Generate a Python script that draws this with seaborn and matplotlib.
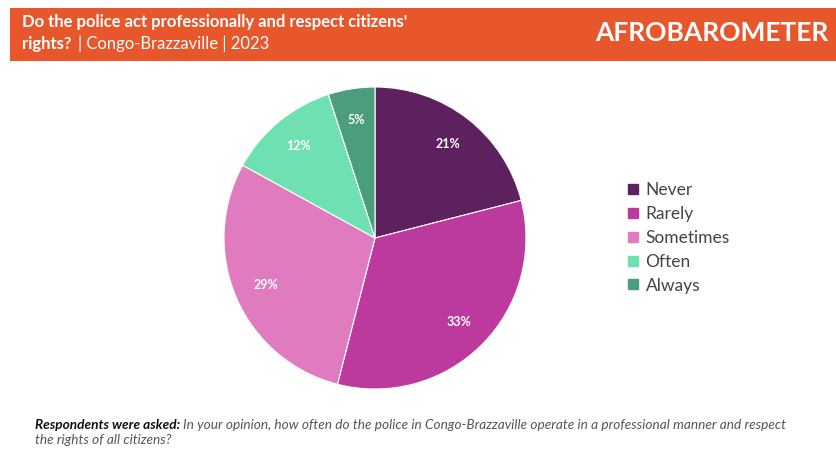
import matplotlib
matplotlib.use("Agg")
import matplotlib.pyplot as plt
import seaborn as sns
from matplotlib.patches import Rectangle
from matplotlib.lines import Line2D

categories = ["Never", "Rarely", "Sometimes", "Often", "Always"]
values = [21, 33, 29, 12, 5]
colors = ["#5E2160", "#BC3A9E", "#E07BC0", "#6FE0B2", "#4A9E7E"]

sns.set_theme(style="white")
plt.rcParams['font.family'] = ['Lato', 'DejaVu Sans']

W, H = 836, 463
fig = plt.figure(figsize=(W / 100, H / 100), dpi=100)
fig.patch.set_facecolor("white")

def fx(px):
    return px / W

def fy(py):
    return 1 - py / H

# Header band
fig.patches.append(Rectangle((fx(10), fy(61)), 1 - fx(10), (61 - 8) / H,
                             transform=fig.transFigure, facecolor="#E8572C",
                             edgecolor="none", zorder=0))
fig.text(fx(22), fy(22), "Do the police act professionally and respect citizens'",
         color="white", fontsize=12, fontweight="bold", va="center", ha="left")
t1 = fig.text(fx(22), fy(44), "rights?", color="white", fontsize=12,
              fontweight="bold", va="center", ha="left")
fig.canvas.draw()
r = fig.canvas.get_renderer()
bb = t1.get_window_extent(r)
fig.text(bb.x1 / W + fx(6), fy(44), "| Congo-Brazzaville | 2023", color="white",
         fontsize=12, va="center", ha="left")
fig.text(fx(828), fy(33), "AFROBAROMETER", color="white", fontsize=19,
         fontweight="bold", va="center", ha="right")

# Pie
cx, cy, R = 375, 238, 151
ax = fig.add_axes([fx(cx - R), fy(cy + R), 2 * R / W, 2 * R / H])
palette = sns.color_palette(colors)
wedges, texts, autotexts = ax.pie(
    values, colors=palette, startangle=90, counterclock=False,
    autopct=lambda p: f"{p:.0f}%", pctdistance=0.79, radius=1,
    wedgeprops=dict(edgecolor="white", linewidth=0.8),
    textprops=dict(color="white", fontsize=9, fontweight="bold"))
ax.set_xlim(-1, 1)
ax.set_ylim(-1, 1)
ax.set_aspect("equal")
ax.axis("off")

# Legend
handles = [Line2D([0], [0], marker="s", linestyle="none", markersize=6.5,
                  markerfacecolor=c, markeredgecolor=c) for c in colors]
leg = fig.legend(handles, categories, loc="upper left",
                 bbox_to_anchor=(fx(609), fy(166)), frameon=False,
                 fontsize=12.5, handletextpad=0.2, labelspacing=0.46,
                 handlelength=1.0)
for t in leg.get_texts():
    t.set_color("#444444")

# Footer
t2 = fig.text(fx(35), fy(425), "Respondents were asked:", fontsize=9.8,
              fontweight="bold", style="italic", color="#111111",
              va="center", ha="left")
fig.canvas.draw()
bb2 = t2.get_window_extent(fig.canvas.get_renderer())
fig.text(bb2.x1 / W + fx(3), fy(425),
         "In your opinion, how often do the police in Congo-Brazzaville operate in a professional manner and respect",
         fontsize=9.8, style="italic", color="#555555", va="center", ha="left")
fig.text(fx(35), fy(440), "the rights of all citizens?", fontsize=9.8,
         style="italic", color="#555555", va="center", ha="left")

fig.savefig("out.png", dpi=100, facecolor="white")
